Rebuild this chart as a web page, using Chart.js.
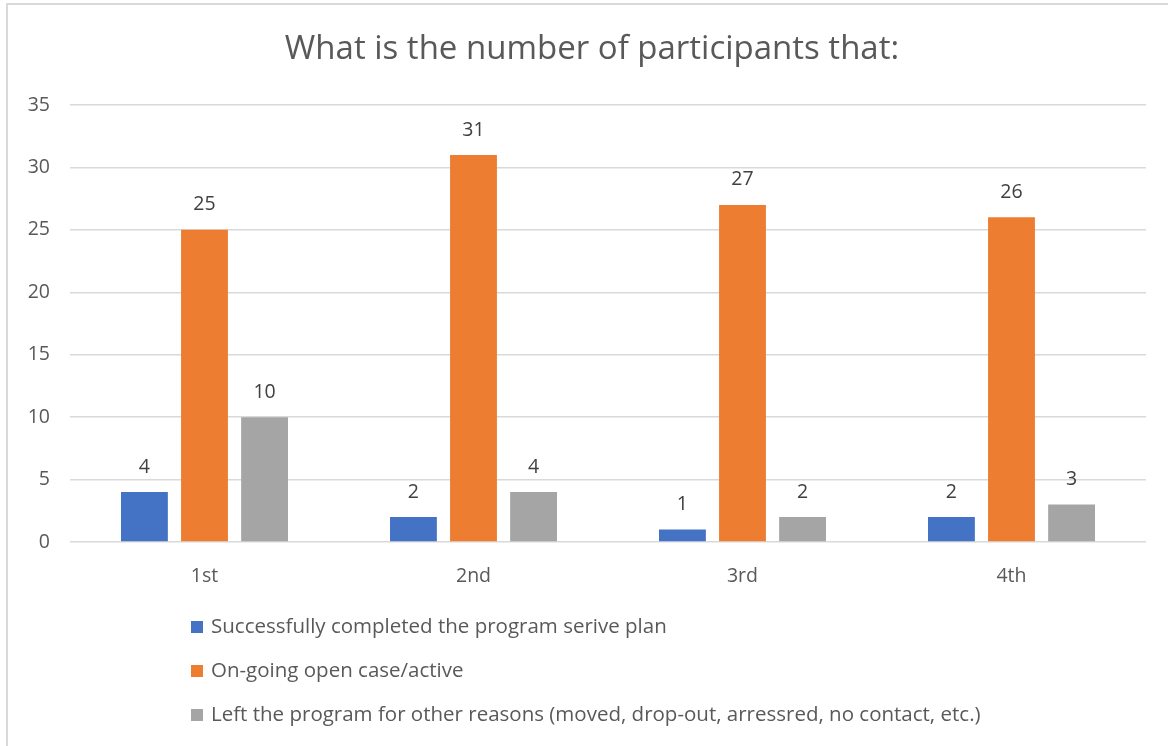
<!DOCTYPE html>
<html>
<head>
<meta charset="utf-8">
<title>Participants</title>
<script src="https://cdn.jsdelivr.net/npm/chart.js@4.4.1/dist/chart.umd.min.js"></script>
<style>
    html, body {
        margin: 0;
        padding: 0;
        background: #fff;
    }
    #wrap {
        width: 1168px;
        height: 746px;
        position: relative;
    }
</style>
</head>
<body>
<div id="wrap">
    <canvas id="app" width="1168" height="746"></canvas>
</div>
<script>
'use strict'

// quarters on the x axis
const quarters = ['1st', '2nd', '3rd', '4th']

// one array per outcome, same order as quarters
const completed = [4, 2, 1, 2]
const ongoing = [25, 31, 27, 26]
const leftProgram = [10, 4, 2, 3]

const seriesNames = [
    'Successfully completed the program serive plan',
    'On-going open case/active',
    'Left the program for other reasons (moved, drop-out, arressred, no contact, etc.)'
]
const seriesColors = ['#4472C4', '#ED7D31', '#A5A5A5']

const yTicks = [0, 5, 10, 15, 20, 25, 30, 35]

const chartTitle = 'What is the number of participants that:'

const FONT = '"Open Sans", Lato, sans-serif'
const TEXT_SIZE = 19.5
const LEGEND_SIZE = 20.5

// title drawn by hand so it can sit a little right of the canvas centre
const titlePlugin = {
    id: 'titlePlugin',
    afterDraw(chart) {
        const ctx = chart.ctx
        ctx.save()
        ctx.font = '33px ' + FONT
        ctx.fillStyle = '#595959'
        ctx.textAlign = 'center'
        ctx.textBaseline = 'middle'
        ctx.fillText(chartTitle, 592, 50)
        ctx.restore()
    }
}

// value labels above every bar
const valueLabels = {
    id: 'valueLabels',
    afterDatasetsDraw(chart) {
        const ctx = chart.ctx
        ctx.save()
        ctx.font = TEXT_SIZE + 'px ' + FONT
        ctx.fillStyle = '#404040'
        ctx.textAlign = 'center'
        ctx.textBaseline = 'middle'
        chart.data.datasets.forEach((ds, i) => {
            const meta = chart.getDatasetMeta(i)
            meta.data.forEach((bar, j) => {
                ctx.fillText(String(ds.data[j]), bar.x, bar.y - 25)
            })
        })
        ctx.restore()
    }
}

// stacked legend under the plot, one series per row
const sideLegend = {
    id: 'sideLegend',
    afterDraw(chart) {
        const ctx = chart.ctx
        const rows = [627, 671, 715]
        ctx.save()
        ctx.font = LEGEND_SIZE + 'px ' + FONT
        ctx.textBaseline = 'middle'
        chart.data.datasets.forEach((ds, i) => {
            const y = rows[i]
            ctx.fillStyle = ds.backgroundColor
            ctx.fillRect(191, y - 6, 12, 12)
            ctx.fillStyle = '#595959'
            ctx.fillText(ds.label, 211, y)
        })
        ctx.restore()
    }
}

// thin frame on the top and left edges
const frame = {
    id: 'frame',
    beforeDraw(chart) {
        const ctx = chart.ctx
        ctx.save()
        ctx.strokeStyle = '#d9d9d9'
        ctx.lineWidth = 2
        ctx.beginPath()
        ctx.moveTo(7, 746)
        ctx.lineTo(7, 4)
        ctx.lineTo(1168, 4)
        ctx.stroke()
        ctx.restore()
    }
}

const datasets = [completed, ongoing, leftProgram].map((values, i) => ({
    label: seriesNames[i],
    data: values,
    backgroundColor: seriesColors[i],
    borderWidth: 0,
    categoryPercentage: 0.67,
    barPercentage: 0.78
}))

var chart = new Chart(document.getElementById('app'), {
    type: 'bar',
    data: {
        labels: quarters,
        datasets
    },
    options: {
        responsive: false,
        animation: false,
        events: [],
        layout: {
            padding: { left: 16, right: 22, top: 105, bottom: 150 }
        },
        plugins: {
            legend: { display: false },
            tooltip: { enabled: false },
            title: { display: false }
        },
        scales: {
            x: {
                grid: { display: false, drawTicks: false },
                border: { display: false },
                ticks: {
                    color: '#595959',
                    font: { family: FONT, size: TEXT_SIZE },
                    padding: 23
                },
                afterFit(scale) {
                    scale.height = 54
                }
            },
            y: {
                min: yTicks[0],
                max: yTicks[yTicks.length - 1],
                afterBuildTicks(scale) {
                    scale.ticks = yTicks.map(v => ({ value: v }))
                },
                grid: { color: '#d9d9d9', lineWidth: 1.5, drawTicks: false },
                border: { display: false },
                ticks: {
                    color: '#595959',
                    font: { family: FONT, size: TEXT_SIZE },
                    padding: 20
                },
                afterFit(scale) {
                    scale.width = 54
                }
            }
        }
    },
    plugins: [frame, valueLabels, sideLegend, titlePlugin]
})
</script>
</body>
</html>
